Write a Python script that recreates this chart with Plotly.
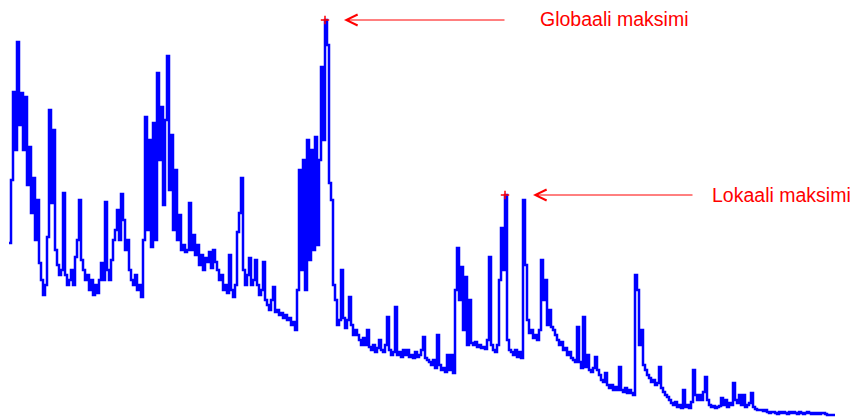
import plotly.graph_objects as go

# Sampled signal amplitude (one sample every step along the trace)
signal = [
    177, 240, 328, 270, 378, 295, 327, 270, 323, 235, 273, 207, 242, 180, 220, 157, 140, 125, 135, 183,
    310, 217, 290, 170, 155, 145, 150, 227, 145, 135, 140, 150, 135, 163, 180, 220, 160, 150, 140, 145,
    130, 140, 125, 135, 127, 140, 157, 140, 218, 150, 140, 160, 180, 190, 210, 180, 226, 200, 170, 180,
    150, 140, 135, 145, 130, 135, 123, 180, 303, 190, 280, 173, 297, 180, 347, 260, 313, 215, 300, 364,
    230, 285, 190, 250, 180, 205, 170, 175, 168, 170, 217, 170, 185, 165, 175, 155, 165, 150, 162, 158,
    168, 152, 170, 158, 150, 140, 145, 130, 135, 127, 165, 130, 123, 135, 188, 207, 242, 150, 135, 145,
    162, 135, 140, 160, 135, 125, 130, 158, 120, 115, 110, 120, 133, 108, 110, 105, 107, 102, 105, 100,
    102, 95, 98, 90, 130, 250, 150, 260, 130, 280, 160, 270, 170, 283, 175, 260, 353, 280, 400, 375,
    237, 220, 135, 120, 95, 100, 150, 102, 92, 100, 123, 95, 85, 90, 85, 80, 75, 82, 75, 90,
    73, 70, 75, 68, 72, 80, 70, 68, 75, 103, 70, 65, 68, 113, 65, 68, 63, 70, 65, 70,
    63, 65, 62, 68, 63, 65, 70, 83, 62, 60, 58, 55, 60, 52, 85, 55, 50, 52, 48, 65,
    50, 65, 47, 130, 172, 120, 153, 90, 143, 75, 120, 77, 75, 78, 73, 75, 72, 73, 71, 80,
    163, 75, 70, 68, 75, 140, 192, 150, 225, 80, 70, 68, 65, 70, 63, 68, 62, 220, 155, 100,
    87, 90, 82, 85, 80, 90, 160, 120, 140, 95, 110, 93, 90, 85, 80, 75, 78, 70, 72, 65,
    68, 62, 60, 58, 93, 58, 52, 103, 53, 65, 50, 48, 52, 63, 50, 45, 40, 38, 47, 35,
    32, 35, 30, 33, 30, 53, 30, 28, 32, 27, 30, 27, 25, 145, 130, 75, 90, 55, 50, 45,
    42, 38, 40, 35, 37, 53, 32, 28, 25, 23, 20, 17, 15, 18, 13, 15, 12, 30, 13, 15,
    12, 18, 50, 25, 20, 25, 20, 28, 43, 20, 15, 13, 14, 12, 13, 14, 22, 15, 20, 13,
    17, 15, 37, 20, 17, 25, 15, 25, 13, 15, 17, 27, 13, 11, 10, 10, 10, 9, 10, 8,
    7, 8, 8, 7, 6, 8, 7, 8, 7, 6, 8, 7, 8, 7, 6, 8, 7, 6, 7, 8,
    7, 6, 7, 6, 7, 6, 7, 7, 6, 5, 5, 5, 5, 5,
]
sample = list(range(len(signal)))

LABEL_GLOBAL = "Globaali maksimi"
LABEL_LOCAL = "Lokaali maksimi"

# Global maximum, and the highest point after the global peak's region
i_glob = max(sample, key=lambda i: signal[i])
after = [i for i in sample if i > i_glob + 5]
i_loc = max(after, key=lambda i: signal[i])

RED = "#FF0000"
BLUE = "#0000FF"

fig = go.Figure()
fig.add_trace(go.Scatter(
    x=sample, y=signal, mode="lines",
    line=dict(color=BLUE, width=2.5, shape="hv"),
    hoverinfo="skip", showlegend=False,
))
fig.add_trace(go.Scatter(
    x=[i_glob, i_loc], y=[signal[i_glob], signal[i_loc]], mode="markers",
    marker=dict(symbol="cross-thin", size=6, line=dict(color=RED, width=1.5)),
    hoverinfo="skip", showlegend=False,
))

font = dict(family="Arial, Liberation Sans, sans-serif", size=19.5, color=RED)
for idx, tail, gap in [(i_glob, 181, 19), (i_loc, 189, 28)]:
    fig.add_annotation(
        x=idx, y=signal[idx], xref="x", yref="y", text="",
        showarrow=True, arrowhead=5, arrowsize=2.2, arrowwidth=1,
        arrowcolor=RED, ax=tail, ay=0, standoff=gap,
    )
fig.add_annotation(x=538 / 861, y=1 - 19 / 419, xref="paper", yref="paper",
                   text=LABEL_GLOBAL, showarrow=False, xanchor="left",
                   yanchor="middle", font=font)
fig.add_annotation(x=710 / 861, y=1 - 195 / 419, xref="paper", yref="paper",
                   text=LABEL_LOCAL, showarrow=False, xanchor="left",
                   yanchor="middle", font=font)

fig.update_layout(
    width=861, height=419,
    margin=dict(l=0, r=0, t=0, b=0),
    paper_bgcolor="white", plot_bgcolor="white",
    xaxis=dict(visible=False, range=[-4.5, 426], fixedrange=True),
    yaxis=dict(visible=False, range=[1, 420], fixedrange=True),
)

fig.write_html("out.html", config={"displayModeBar": False})
